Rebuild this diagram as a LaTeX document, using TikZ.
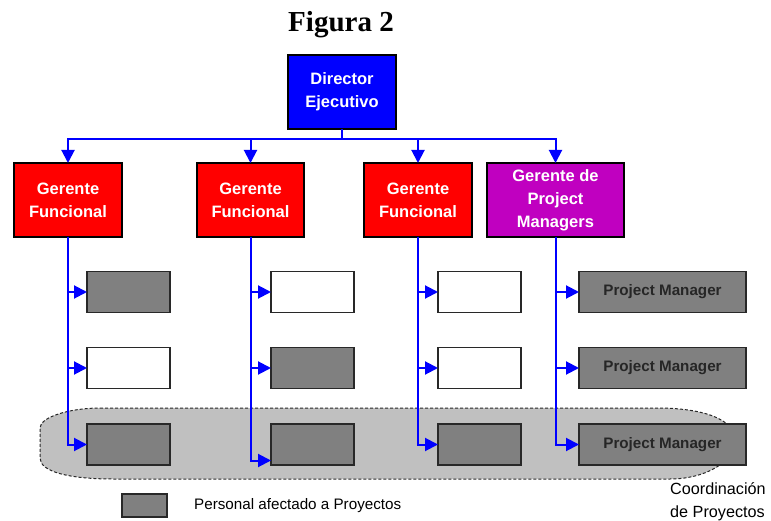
\documentclass[tikz,border=0pt]{standalone}
\usepackage{fontspec}
\setmainfont{Liberation Sans}
\newfontfamily\titlefont{Liberation Serif}
\usetikzlibrary{arrows.meta}
\definecolor{dirblue}{RGB}{0,0,255}
\definecolor{gerred}{RGB}{255,0,0}
\definecolor{gerpurple}{RGB}{192,0,192}
\definecolor{staffgray}{RGB}{128,128,128}
\definecolor{zonegray}{RGB}{192,192,192}
\definecolor{edgegray}{RGB}{40,40,40}
\tikzset{
  boss/.style={draw=black, line width=2pt, text=white, align=center, inner sep=0pt, outer sep=0pt,
    minimum height=74pt, font=\fontsize{16.5}{23}\selectfont\bfseries},
  staff/.style={draw=edgegray, line width=1.3pt, fill=staffgray, inner sep=0pt, outer sep=0pt,
    minimum height=41pt, minimum width=83pt},
  vacant/.style={staff, fill=white},
  pm/.style={staff, minimum width=167pt, text=black!85, font=\fontsize{15.2}{17}\selectfont\bfseries},
  arr/.style={draw=dirblue, line width=2pt, -{Triangle[width=13pt,length=13pt]}},
  wire/.style={draw=dirblue, line width=2pt},
}
\begin{document}
\begin{tikzpicture}[x=1pt,y=-1pt]
\useasboundingbox (0,0) rectangle (771,521);
% coordination zone
\draw[fill=zonegray, draw=edgegray, line width=1pt, dash pattern=on 3pt off 2pt]
  (100,408) -- (657,408) .. controls (700,408) and (735,418) .. (735,440)
  .. controls (735,462) and (705,479) .. (670,479) -- (113,479)
  .. controls (70,479) and (40,472) .. (40,458) -- (40,428)
  .. controls (40,417) and (70,408) .. (100,408) -- cycle;
% title
\node (title) at (341,25) {\titlefont\fontsize{29}{32}\selectfont\bfseries Figura 2};
% top
\node[boss, fill=dirblue, minimum width=108pt] (dir) at (342,92) {Director\\Ejecutivo};
\node[boss, fill=gerred, minimum width=108pt] (g1) at (68,200) {Gerente\\Funcional};
\node[boss, fill=gerred, minimum width=107pt] (g2) at (250.5,200) {Gerente\\Funcional};
\node[boss, fill=gerred, minimum width=108pt] (g3) at (418,200) {Gerente\\Funcional};
\node[boss, fill=gerpurple, minimum width=137pt] (g4) at (555.5,200) {Gerente de\\Project\\Managers};
% staff
\node[staff]  (b11) at (128.5,292) {};
\node[vacant] (b12) at (128.5,368) {};
\node[staff]  (b13) at (128.5,444.5) {};
\node[vacant] (b21) at (312.5,292) {};
\node[staff]  (b22) at (312.5,368) {};
\node[staff]  (b23) at (312.5,444.5) {};
\node[vacant] (b31) at (479.5,292) {};
\node[vacant] (b32) at (479.5,368) {};
\node[staff]  (b33) at (479.5,444.5) {};
\node[pm] (b41) at (662.5,292) {Project Manager};
\node[pm] (b42) at (662.5,368) {Project Manager};
\node[pm] (b43) at (662.5,444.5) {Project Manager};
% connectors from director
\draw[wire] (dir.south) -- ++(0,10) coordinate (bus);
\foreach \g in {g1,g2,g3,g4}{
  \draw[arr] (bus) -| (\g.north);
}
% connectors to staff
\foreach \c in {1,3,4}{
  \draw[arr] (g\c.south) |- (b\c1.west);
  \draw[arr] (g\c.south) |- (b\c2.west);
  \draw[arr] (g\c.south) |- (b\c3.west);
}
\draw[arr] (g2.south) |- (b21.west);
\draw[arr] (g2.south) |- (b22.west);
\draw[arr] (g2.south) |- ([yshift=-16pt]b23.west);
% legend
\node[staff, minimum width=45pt, minimum height=23pt] (leg) at (144.5,505.5) {};
\node[anchor=west, inner sep=0pt, font=\fontsize{15.2}{17}\selectfont] (legtext) at (194,506) {Personal afectado a Proyectos};
\node[anchor=west, inner sep=0pt, align=left, font=\fontsize{16.2}{23}\selectfont] (coord) at (670,502) {Coordinación\\de Proyectos};
\end{tikzpicture}
\end{document}
